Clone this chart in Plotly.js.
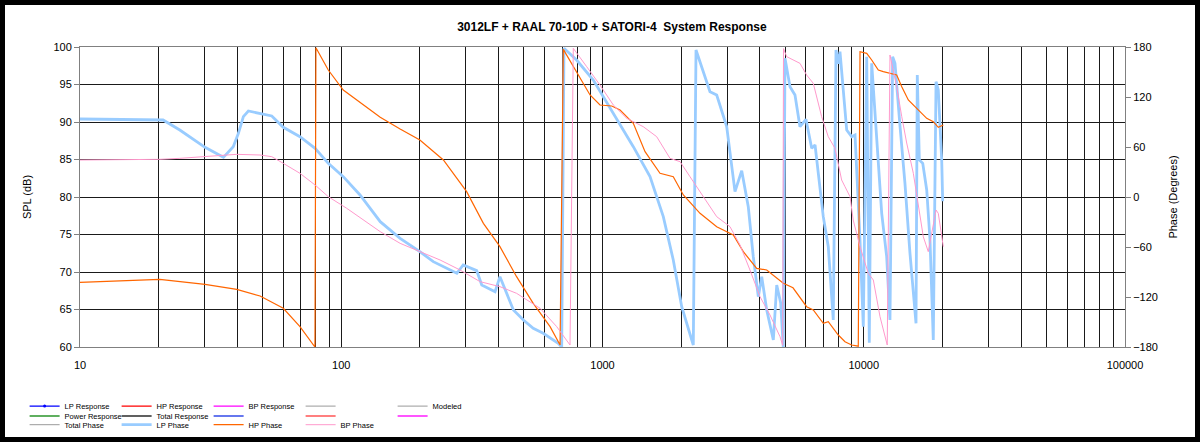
<!DOCTYPE html>
<html>
<head>
<meta charset="utf-8">
<script src="https://cdn.plot.ly/plotly-3.0.1.min.js"></script>
<style>
  html, body { margin: 0; padding: 0; background: #fff; }
  #chart { width: 1190px; height: 432px; border: 5px solid #000; }
</style>
</head>
<body>
<div id="chart"></div>
<script>
// frequency (Hz) / phase (degrees)
const lpFreq = [10, 15.5, 20.8, 24.1, 30.1, 35.4, 38.6, 40.4, 42.2, 44.1, 49.6, 54.2, 60, 69.5, 79.4, 89.2, 101.8, 118, 141, 168,
  200, 225, 277, 293, 330, 345, 388, 405, 456, 498, 543, 593, 677, 698, 712, 796, 922, 1007, 1133, 1312,
  1520, 1709, 1866, 2010, 2226, 2280, 2579, 2736, 2988, 3215, 3411, 3614, 3777, 3948, 4069, 4252, 4507, 4644, 4810, 4920,
  4995, 5220, 5455, 5700, 6010, 6320, 6510, 7000, 7315, 7645, 7830, 7990, 8110, 8605, 8990, 9260, 9675, 9960, 10265, 10500,
  10725, 11210, 11715, 12240, 12600, 12900, 13170, 13770, 14380, 15030, 15850, 16030, 16320, 16820, 17420, 17930, 18460, 18910, 19290, 19880, 20050];
const lpPhase = [93.6, 93, 92.4, 80.4, 59.6, 47.6, 60.4, 76.4, 96.4, 103.2, 99.6, 97.2, 83.6, 72.4, 58.4, 40.4, 24.4, 2.4, -29.6, -49.6,
  -65.6, -77.6, -91.6, -81.6, -88.4, -105.6, -113.6, -95.6, -135.6, -147.6, -157.6, -163.6, -175.6, -180, 178.4, 164.4, 140.4, 120.4, 94.4, 60.4,
  24.4, -23.6, -75.6, -131.6, -177.6, 176.4, 126.4, 122.4, 84.4, 6.4, 31.6, -11.6, -71.6, -119.6, -95.6, -135.6, -171.6, -105.6, -127.2, -180,
  166.4, 132.4, 122.4, 84.4, 93.2, 58.4, 62.4, -23.6, -59.6, -147.6, 176.4, 160, 174.4, 80.4, 72.4, 74.4, -51.6, -155.6, 168.4, -175,
  160.4, 68.4, -19.6, -71.6, -147.6, 168.4, 160.4, 84.4, 16.4, -67.6, -151.6, 146.4, 44.4, 40.4, 8.4, -51.6, -171.6, 138.4, 128.4, 44.4, -5];

const hpFreq = [10, 15.5, 20.2, 30.1, 39.8, 48.9, 60, 69.5, 78.2, 79.3, 80, 80.9, 89.2, 101.8, 141, 168, 200, 246, 302, 350,
  405, 469, 543, 630, 688, 708, 796, 896, 978, 1085, 1167, 1312, 1455, 1660, 1866, 2039, 2362, 2736, 3167, 3459,
  3892, 4252, 4920, 5360, 6045, 6410, 7000, 7315, 7990, 8476, 8990, 9530, 9675, 10265, 10725, 11370, 11880, 12600, 13370, 13980,
  14810, 15710, 16420, 17420, 18460, 19290, 20160];
const hpPhase = [-102.4, -99.6, -98.8, -104.8, -110.8, -118.8, -133.6, -155.6, -177.6, -180, 179, 176.4, 152.4, 128.4, 95.6, 81.6, 68.4, 44.4, 6.4, -31.6,
  -59.6, -95.6, -127.6, -155.6, -177.6, 177.2, 150.4, 122.4, 110.4, 109.2, 104.4, 88.4, 54.4, 28.4, 24.4, 2.4, -19.6, -35.6, -45.6, -65.6,
  -85.6, -87.6, -103.6, -109, -131.6, -135.6, -151.6, -149.6, -165.6, -173.6, -177.6, -179, 174.4, 172.4, 164.4, 152.4, 150.4, 148.4, 146.4, 132.4,
  116.4, 108.4, 102.4, 94.4, 90.4, 83.6, 86.4];

const bpFreq = [10, 13.6, 20.2, 24.1, 30.1, 39.8, 48.9, 54.2, 60, 69.5, 79.4, 89.2, 105, 121.5, 141, 168, 200, 239, 285, 340,
  405, 469, 577, 668, 751, 773, 870, 978, 1100, 1238, 1432, 1612, 1813, 1981, 2162, 2432, 2736, 3076, 3360, 3668,
  4008, 4377, 4780, 4895, 4930, 5070, 5375, 5700, 6045, 6410, 6900, 7315, 7760, 8230, 8476, 8860, 9113, 9675, 10410, 10880,
  11540, 12300, 12600, 13370, 13980, 14600, 15480, 16180, 16900, 17660, 18460, 18910, 19290, 20160];
const bpPhase = [44.4, 44.6, 45.2, 46.4, 48.4, 51.2, 50.4, 48.4, 40.4, 28.4, 14.4, 0.4, -13.6, -27.6, -41.6, -55.6, -65.6, -75.6, -87.6, -101.6,
  -107.6, -115.6, -133.6, -155.6, -177.6, 178.4, 156.4, 134.4, 110.4, 94.4, 84.4, 72.4, 46.4, 42.4, 24.4, 0.4, -23.6, -35.6, -57.6, -87.6,
  -119.6, -141.6, -167.6, -178, 178, 168.4, 164.4, 160.4, 146.4, 136.4, 96.4, 72.4, 58.4, 20.4, 12.4, 0.4, -27.6, -59.6, -91.6, -99.6,
  -143.6, -177.6, 170.4, 132.4, 96.4, 64.8, 28.4, -11.6, -47.6, -65.6, -35.6, -15.6, -19.6, -59.6];

const decades = [10, 100, 1000, 10000, 100000];
const decadeLabels = ['10', '100', '1000', '10000', '100000'];
const splTicks = [60, 65, 70, 75, 80, 85, 90, 95, 100];
const phaseTicks = [-180, -120, -60, 0, 60, 120, 180];

// log grid: 1..9 in every decade, labels on the decades only
const gridVals = [];
const gridText = [];
decades.forEach(function (d, i) {
    const steps = i < decades.length - 1 ? 9 : 1;
    for (let k = 1; k <= steps; k++) {
        gridVals.push(d * k);
        gridText.push(k === 1 ? decadeLabels[i] : '');
    }
});

const FONT = 'Liberation Sans, Arial, sans-serif';

// legend-only entries (series that have nothing inside the plotted range)
function legendOnly(name, color, width, legend, extra) {
    return Object.assign({
        x: [null], y: [null], type: 'scatter', mode: 'lines', name: name,
        line: { color: color, width: width }, legend: legend, hoverinfo: 'skip'
    }, extra || {});
}

const data = [
    legendOnly('LP Response', '#0000FF', 1.2, 'legend', { mode: 'lines+markers', marker: { size: 3, color: '#0000FF' } }),
    legendOnly('HP Response', '#FF0000', 1.2, 'legend'),
    legendOnly('BP Response', '#FF00FF', 1.2, 'legend'),
    legendOnly(' ', '#808080', 0.8, 'legend'),
    legendOnly('Modeled', '#808080', 0.8, 'legend'),
    legendOnly('Power Response', '#5FAF5F', 2, 'legend2'),
    legendOnly('Total Response', '#606060', 2, 'legend2'),
    legendOnly(' ', '#6677EE', 2, 'legend2'),
    legendOnly(' ', '#FF7F7F', 2, 'legend2'),
    legendOnly(' ', '#FF55FF', 2, 'legend2'),
    legendOnly('Total Phase', '#808080', 0.8, 'legend3'),
    {
        x: lpFreq, y: lpPhase, yaxis: 'y2', type: 'scatter', mode: 'lines', name: 'LP Phase',
        line: { color: '#99CCFF', width: 2.8 }, legend: 'legend3'
    },
    {
        x: hpFreq, y: hpPhase, yaxis: 'y2', type: 'scatter', mode: 'lines', name: 'HP Phase',
        line: { color: '#FF6600', width: 1.2 }, legend: 'legend3'
    },
    {
        x: bpFreq, y: bpPhase, yaxis: 'y2', type: 'scatter', mode: 'lines', name: 'BP Phase',
        line: { color: '#FF99CC', width: 1 }, legend: 'legend3'
    }
];

function legendRow(y) {
    return {
        orientation: 'h', x: -0.053, xanchor: 'left', y: y, yanchor: 'middle',
        entrywidth: 47, entrywidthmode: 'pixels', bgcolor: 'rgba(0,0,0,0)',
        font: { family: FONT, size: 7.5, color: '#000' }, itemclick: false
    };
}

const layout = {
    width: 1190,
    height: 432,
    margin: { l: 75, r: 70, t: 42, b: 90, autoexpand: false },
    paper_bgcolor: '#fff',
    plot_bgcolor: '#fff',
    font: { family: FONT, size: 11, color: '#000' },
    title: {
        text: '<b>3012LF + RAAL 70-10D + SATORI-4  System Response</b>',
        font: { family: FONT, size: 12, color: '#000' },
        x: 0.509, xref: 'paper', xanchor: 'center',
        y: 0.949, yref: 'container', yanchor: 'middle'
    },
    xaxis: {
        type: 'log',
        range: [1, 5],
        tickmode: 'array',
        tickvals: gridVals,
        ticktext: gridText,
        showgrid: true,
        gridcolor: '#1a1a1a',
        gridwidth: 1,
        ticks: '',
        ticklabelstandoff: 8,
        showline: true,
        linecolor: '#808080',
        linewidth: 1,
        mirror: true,
        zeroline: false,
        tickfont: { family: FONT, size: 11 }
    },
    yaxis: {
        range: [60, 100],
        tickmode: 'array',
        tickvals: splTicks,
        showgrid: true,
        gridcolor: '#1a1a1a',
        gridwidth: 1,
        ticks: 'outside',
        ticklen: 5,
        tickcolor: '#808080',
        showline: true,
        linecolor: '#808080',
        zeroline: false,
        tickfont: { family: FONT, size: 11 },
        title: { text: 'SPL (dB)', font: { family: FONT, size: 11 }, standoff: 19 }
    },
    yaxis2: {
        range: [-180, 180],
        overlaying: 'y',
        side: 'right',
        tickmode: 'array',
        tickvals: phaseTicks,
        showgrid: false,
        ticks: 'outside',
        ticklen: 5,
        tickcolor: '#808080',
        showline: true,
        linecolor: '#808080',
        zeroline: false,
        tickfont: { family: FONT, size: 11 },
        title: { text: 'Phase (Degrees)', font: { family: FONT, size: 11 }, standoff: 12 }
    },
    showlegend: true,
    legend: legendRow(-0.197),
    legend2: legendRow(-0.23),
    legend3: legendRow(-0.259),
    hovermode: false
};

Plotly.newPlot('chart', data, layout, { staticPlot: true, displayModeBar: false });
</script>
</body>
</html>
